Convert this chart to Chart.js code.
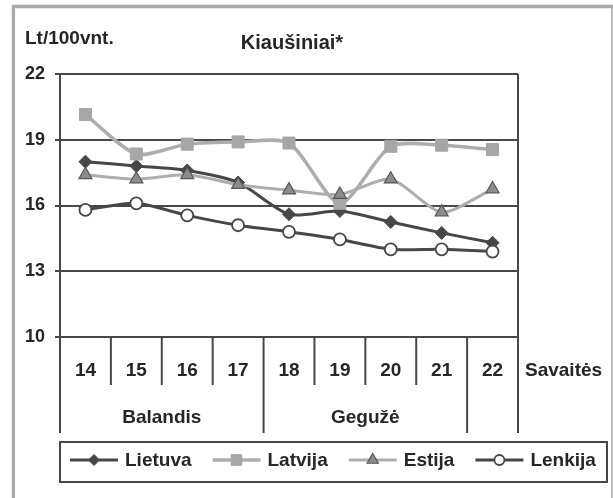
<!DOCTYPE html>
<html><head><meta charset="utf-8">
<script src="https://cdn.jsdelivr.net/npm/chart.js@4/dist/chart.umd.min.js"></script>
<style>html,body{margin:0;padding:0;background:#fff}#wrap{position:relative;width:613px;height:498px}</style>
</head><body><div id="wrap"><canvas id="c" width="613" height="498"></canvas></div>
<script>
const weeks = ['14','15','16','17','18','19','20','21','22'];
const months = ['Balandis','Gegužė',''];
const monthSpans = [4,4,1];
const lietuva = [18.0,17.8,17.6,17.05,15.6,15.75,15.25,14.75,14.3];
const latvija = [20.15,18.35,18.8,18.9,18.85,16.1,18.7,18.75,18.55];
const estija  = [17.4,17.2,17.4,16.95,16.7,16.5,17.2,15.7,16.75];
const lenkija = [15.8,16.1,15.55,15.1,14.8,14.45,14.0,14.0,13.9];
const yTicks = [10,13,16,19,22];
const titleText = 'Kiaušiniai*';
const unitText = 'Lt/100vnt.';
const xTitleText = 'Savaitės';

const FONT = "'Liberation Sans', Arial, sans-serif";
const INK = '#262626';
const DARK = '#474747';

function marker(ctx, style, r, x, y, fill, stroke, bw){
  ctx.save();
  ctx.fillStyle = fill; ctx.strokeStyle = stroke; ctx.lineWidth = bw;
  ctx.beginPath();
  if (style === 'rectRot'){ ctx.moveTo(x-r,y); ctx.lineTo(x,y-r); ctx.lineTo(x+r,y); ctx.lineTo(x,y+r); ctx.closePath(); }
  else if (style === 'rect'){ const s=r*Math.SQRT1_2; ctx.rect(x-s,y-s,2*s,2*s); }
  else if (style === 'triangle'){ ctx.moveTo(x,y-r); ctx.lineTo(x+r*0.866,y+r/2); ctx.lineTo(x-r*0.866,y+r/2); ctx.closePath(); }
  else { ctx.arc(x,y,r,0,Math.PI*2); }
  ctx.fill(); if (bw>0) ctx.stroke();
  ctx.restore();
}

const datasets = [
  {label:'Lietuva', data:lietuva, borderColor:DARK, backgroundColor:DARK, pointStyle:'rectRot', pointRadius:6.5,
   pointBackgroundColor:DARK, pointBorderColor:DARK, pointBorderWidth:1, borderWidth:3, order:4},
  {label:'Latvija', data:latvija, borderColor:'#adadad', backgroundColor:'#a6a6a6', pointStyle:'rect', pointRadius:8.5,
   pointBackgroundColor:'#a6a6a6', pointBorderColor:'#a6a6a6', pointBorderWidth:1, borderWidth:3.5, order:3},
  {label:'Estija', data:estija, borderColor:'#adadad', backgroundColor:'#8c8c8c', pointStyle:'triangle', pointRadius:7.5,
   pointBackgroundColor:'#8c8c8c', pointBorderColor:'#555', pointBorderWidth:1.2, borderWidth:3, order:2},
  {label:'Lenkija', data:lenkija, borderColor:DARK, backgroundColor:'#fff', pointStyle:'circle', pointRadius:6,
   pointBackgroundColor:'#fff', pointBorderColor:DARK, pointBorderWidth:1.8, borderWidth:3, order:1}
];

const decor = {
  id:'decor',
  beforeDraw(chart){
    const ctx = chart.ctx;
    ctx.save();
    ctx.fillStyle = '#fff'; ctx.fillRect(0,0,chart.width,chart.height);
    ctx.strokeStyle = '#a9a9a9';
    ctx.lineWidth = 3.3;
    ctx.beginPath(); ctx.moveTo(13.4,5); ctx.lineTo(13.4,498); ctx.stroke();
    ctx.beginPath(); ctx.moveTo(12,6.5); ctx.lineTo(613,6.5); ctx.stroke();
    ctx.lineWidth = 1.5;
    ctx.beginPath(); ctx.moveTo(612,5); ctx.lineTo(612,498); ctx.stroke();
    ctx.restore();
  },
  afterDraw(chart){
    const ctx = chart.ctx, ca = chart.chartArea, xs = chart.scales.x;
    ctx.save();
    ctx.strokeStyle = DARK; ctx.lineWidth = 2;
    const half = (xs.getPixelForValue(1) - xs.getPixelForValue(0)) / 2;
    const bounds = [];
    for (let i = 0; i <= weeks.length; i++) bounds.push(i < weeks.length ? xs.getPixelForValue(i) - half : xs.getPixelForValue(weeks.length-1) + half);
    ctx.beginPath(); ctx.moveTo(ca.right, ca.top); ctx.lineTo(ca.right, ca.bottom); ctx.stroke();
    const monthB = [0]; monthSpans.forEach(s => monthB.push(monthB[monthB.length-1] + s));
    bounds.forEach((bx, i) => {
      const long = monthB.includes(i);
      ctx.beginPath(); ctx.moveTo(bx, ca.bottom); ctx.lineTo(bx, long ? ca.bottom + 96 : ca.bottom + 48); ctx.stroke();
    });
    ctx.fillStyle = INK;
    ctx.textBaseline = 'middle';
    ctx.font = 'bold 19px ' + FONT;
    ctx.textAlign = 'center';
    weeks.forEach((w, i) => ctx.fillText(w, xs.getPixelForValue(i), ca.bottom + 34));
    months.forEach((m, k) => {
      if (!m) return;
      const cx = (bounds[monthB[k]] + bounds[monthB[k+1]]) / 2;
      ctx.fillText(m, cx, ca.bottom + 81);
    });
    ctx.textAlign = 'left';
    ctx.fillText(xTitleText, ca.right + 7, ca.bottom + 34);
    ctx.font = 'bold 19px ' + FONT;
    ctx.fillText(unitText, 25, 39);
    ctx.font = 'bold 20px ' + FONT;
    ctx.textAlign = 'center';
    ctx.fillText(titleText, 292, 43);
    // legend
    const lx0 = 60, ly0 = 442, lx1 = 607, ly1 = 482, ly = 461;
    ctx.strokeStyle = DARK; ctx.lineWidth = 2;
    ctx.strokeRect(lx0, ly0, lx1 - lx0, ly1 - ly0);
    ctx.font = 'bold 19px ' + FONT;
    ctx.textAlign = 'left';
    let x = 70;
    chart.data.datasets.forEach(ds => {
      ctx.strokeStyle = ds.borderColor; ctx.lineWidth = ds.borderWidth;
      ctx.beginPath(); ctx.moveTo(x, ly - 1); ctx.lineTo(x + 48, ly - 1); ctx.stroke();
      marker(ctx, ds.pointStyle, ds.pointRadius - 1, x + 24, ly - 1, ds.pointBackgroundColor, ds.pointBorderColor, ds.pointBorderWidth);
      ctx.fillStyle = INK;
      ctx.fillText(ds.label, x + 55, ly);
      x += 55 + ctx.measureText(ds.label).width + 21;
    });
    ctx.restore();
  }
};

new Chart(document.getElementById('c'), {
  type:'line',
  data:{labels:weeks, datasets},
  options:{
    responsive:false, animation:false,
    layout:{padding:{top:74, right:95, bottom:0, left:0}},
    elements:{line:{tension:0.25}},
    plugins:{legend:{display:false}, title:{display:false}, tooltip:{enabled:false}},
    scales:{
      x:{type:'category', offset:true, grid:{display:false}, border:{display:false},
         ticks:{display:false}, afterFit(s){ s.height = 161; }},
      y:{min:10, max:22,
         afterBuildTicks(s){ s.ticks = yTicks.map(v => ({value:v})); },
         grid:{color:DARK, lineWidth:2, tickLength:5, drawTicks:true},
         border:{display:true, color:DARK, width:2},
         ticks:{padding:10, color:INK, font:{family:FONT, size:18, weight:'bold'}},
         afterFit(s){ s.width = 60; }}
    }
  },
  plugins:[decor]
});
</script>
</body></html>
